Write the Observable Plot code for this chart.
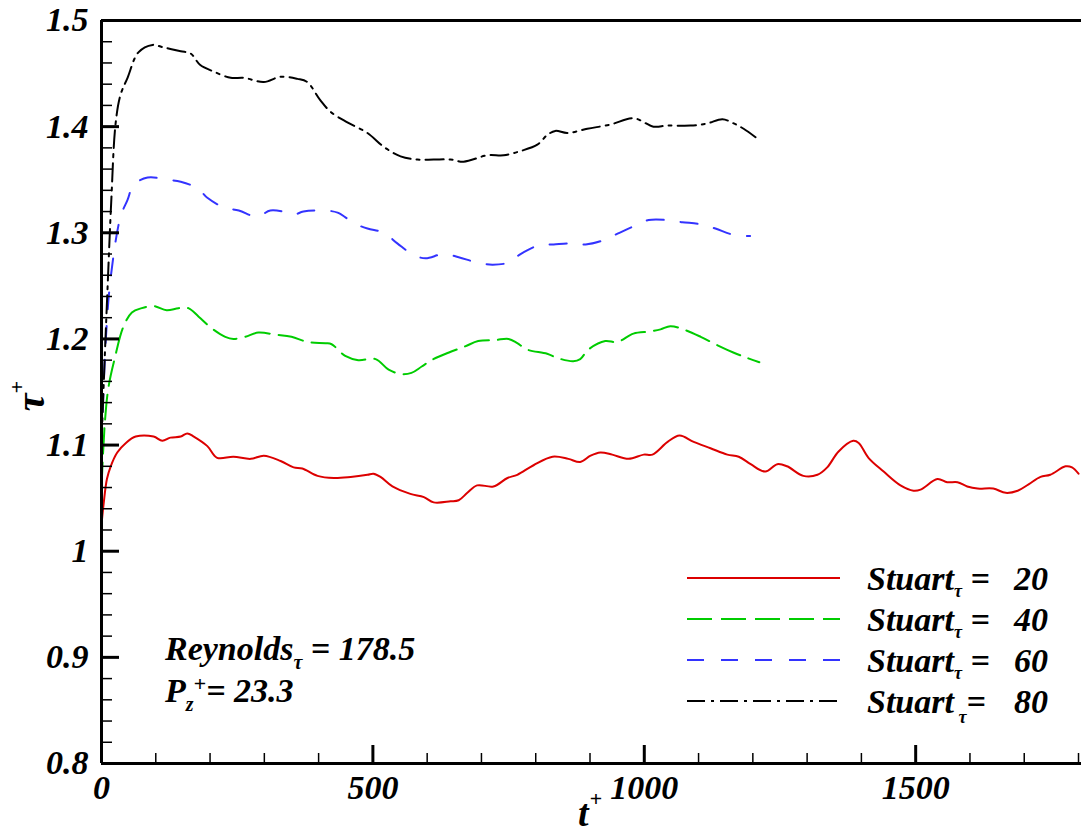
<!DOCTYPE html>
<html><head><meta charset="utf-8">
<script src="https://cdn.jsdelivr.net/npm/d3@7"></script>
<script src="https://cdn.jsdelivr.net/npm/@observablehq/plot@0.6"></script>
<style>html,body{margin:0;padding:0;background:#fff;} #chart svg{display:block;}</style>
</head><body><div id="chart"></div>
<script>
// ---- data ----
const t_red = [0,4,10,17,29,45,63,96,112,127,146,158,170,195,213,243,275,299,330,354,370,398,428,459,490,501,514,536,569,594,612,643,658,674,692,722,748,766,796,831,860,882,901,919,941,971,999,1015,1043,1065,1091,1122,1153,1174,1196,1223,1245,1263,1293,1319,1337,1358,1385,1395,1413,1441,1472,1496,1509,1540,1558,1577,1595,1614,1643,1666,1688,1708,1730,1748,1776,1788,1800];
const tau_red = [1.025,1.045,1.068,1.080,1.093,1.102,1.108,1.108,1.104,1.107,1.108,1.111,1.108,1.099,1.088,1.089,1.087,1.090,1.085,1.079,1.078,1.071,1.069,1.070,1.072,1.073,1.070,1.061,1.054,1.051,1.046,1.047,1.048,1.055,1.062,1.061,1.069,1.072,1.081,1.089,1.087,1.084,1.090,1.093,1.091,1.087,1.091,1.091,1.103,1.109,1.103,1.097,1.091,1.089,1.082,1.075,1.082,1.080,1.071,1.072,1.079,1.094,1.104,1.102,1.088,1.075,1.062,1.057,1.058,1.068,1.065,1.065,1.061,1.059,1.059,1.055,1.057,1.063,1.070,1.072,1.080,1.079,1.073];

const t_green = [0,6,13,25,40,56,74,96,120,142,160,179,203,228,243,265,289,321,350,381,413,424,449,473,505,529,551,571,590,608,639,670,694,726,750,766,784,821,840,869,882,897,928,950,980,1011,1030,1048,1072,1104,1135,1165,1190,1212];
const tau_green = [1.06,1.12,1.155,1.183,1.211,1.225,1.229,1.231,1.227,1.229,1.229,1.221,1.210,1.202,1.200,1.202,1.206,1.204,1.202,1.197,1.196,1.195,1.184,1.180,1.181,1.171,1.167,1.168,1.174,1.180,1.187,1.193,1.198,1.199,1.200,1.196,1.190,1.186,1.182,1.179,1.181,1.190,1.198,1.197,1.205,1.207,1.209,1.212,1.209,1.202,1.194,1.187,1.182,1.178];

const t_blue = [0,8,17,35,48,59,85,121,146,177,195,225,253,287,311,342,354,372,403,435,465,490,520,545,575,597,630,658,692,720,750,772,805,833,868,892,925,950,980,1008,1042,1070,1104,1131,1165,1195];
const tau_blue = [1.10,1.20,1.258,1.315,1.331,1.345,1.352,1.350,1.348,1.342,1.333,1.324,1.321,1.315,1.321,1.319,1.317,1.320,1.321,1.319,1.309,1.304,1.300,1.290,1.279,1.276,1.280,1.277,1.272,1.270,1.272,1.280,1.288,1.289,1.290,1.289,1.293,1.299,1.306,1.312,1.312,1.310,1.308,1.304,1.298,1.297];

const t_black = [0,5,11,18,26,35,48,68,94,112,146,164,182,206,238,262,299,330,361,379,403,422,453,490,520,551,582,612,643,667,711,741,772,803,821,836,858,895,938,980,1017,1042,1085,1116,1144,1165,1183,1205];
const tau_black = [1.10,1.17,1.246,1.33,1.403,1.43,1.446,1.470,1.477,1.475,1.471,1.469,1.458,1.452,1.446,1.446,1.442,1.447,1.445,1.442,1.425,1.414,1.404,1.394,1.381,1.372,1.369,1.369,1.369,1.367,1.373,1.373,1.377,1.383,1.392,1.396,1.394,1.398,1.402,1.408,1.400,1.401,1.401,1.403,1.407,1.403,1.398,1.390];

const stuartValues = ["20", "40", "60", "80"];
const seriesColors = ["#dc0000", "#00cc00", "#3333ff", "#000000"];
const seriesDash = [null, "25,9", "17,17", "18,6,3,6"];

const xMajorTicks = [0, 500, 1000, 1500];
const xTickLabels = ["0", "500", "1000", "1500"];
const xMinorTicks = [100,200,300,400,600,700,800,900,1100,1200,1300,1400,1600,1700,1800];
const yMajorTicks = [0.8, 0.9, 1.0, 1.1, 1.2, 1.3, 1.4, 1.5];
const yTickLabels = ["0.8", "0.9", "1", "1.1", "1.2", "1.3", "1.4", "1.5"];
const yMinorTicks = [0.82,0.84,0.86,0.88,0.92,0.94,0.96,0.98,1.02,1.04,1.06,1.08,1.12,1.14,1.16,1.18,1.22,1.24,1.26,1.28,1.32,1.34,1.36,1.38,1.42,1.44,1.46,1.48];

// ---- build table ----
const seriesT = [t_red, t_green, t_blue, t_black];
const seriesTau = [tau_red, tau_green, tau_blue, tau_black];
const rows = [];
seriesT.forEach((ts, k) => ts.forEach((t, i) => rows.push({s: k, t, tau: seriesTau[k][i]})));

const W = 1081, H = 836;
const mL = 101, mT = 20, mR = 0, mB = 73;
const frameW = W - mL - mR, frameH = H - mT - mB;
const FONT = "Liberation Serif, DejaVu Serif, Times New Roman, serif";
const fs = 34;
const textOpts = {fontSize: fs, fontWeight: "bold", fontStyle: "italic", fontFamily: FONT, fill: "black"};

const lineMarks = [0,1,2,3].map(k => Plot.line(rows.filter(r => r.s === k), {
  x: "t", y: "tau", stroke: seriesColors[k], strokeWidth: 2,
  strokeDasharray: seriesDash[k] || undefined, curve: "catmull-rom"
}));

const plot = Plot.plot({
  width: W, height: H,
  marginLeft: mL, marginTop: mT, marginRight: mR, marginBottom: mB,
  x: {domain: [0, 1805.5], label: null},
  y: {domain: [0.8, 1.5], label: null},
  style: {fontFamily: FONT, background: "white", color: "black", overflow: "visible"},
  marks: [
    ...lineMarks,
    Plot.tickX(xMinorTicks, {x: d => d, stroke: "black", strokeWidth: 1.5, insetTop: frameH - 10}),
    Plot.tickX(xMajorTicks, {x: d => d, stroke: "black", strokeWidth: 3, insetTop: frameH - 18}),
    Plot.tickY(yMinorTicks, {y: d => d, stroke: "black", strokeWidth: 1.5, insetRight: frameW - 11}),
    Plot.tickY(yMajorTicks, {y: d => d, stroke: "black", strokeWidth: 3, insetRight: frameW - 18}),
    Plot.ruleX([0], {stroke: "black", strokeWidth: 3}),
    Plot.ruleY([0.8], {stroke: "black", strokeWidth: 3}),
    Plot.ruleY([1.5], {stroke: "black", strokeWidth: 3}),
    Plot.axisX(xMajorTicks, {tickSize: 0, tickPadding: 11, ...textOpts,
      tickFormat: d => xTickLabels[xMajorTicks.indexOf(d)]}),
    Plot.axisY(yMajorTicks, {tickSize: 0, tickPadding: 13, ...textOpts,
      tickFormat: d => yTickLabels[yMajorTicks.indexOf(d)]})
  ]
});
document.getElementById("chart").appendChild(plot);

// ---- text overlays (titles, annotation, legend) ----
const svg = d3.select(plot);
const g = svg.append("g")
  .attr("font-family", FONT).attr("font-weight", "bold").attr("font-style", "italic")
  .attr("fill", "black").style("white-space", "pre");

// rich text: parts = [[string, size, dy, dx], ...]
function rich(x, y, parts, anchor = "start") {
  const t = g.append("text").attr("x", x).attr("y", y).attr("text-anchor", anchor);
  parts.forEach(([s, size, dy, dx]) => {
    const ts = t.append("tspan").attr("font-size", size).text(s);
    if (dy) ts.attr("dy", dy);
    if (dx) ts.attr("dx", dx);
  });
  return t;
}

// x-axis title t+
rich(578, 826, [["t", 38], ["+", 22, -20, 1]]);
// y-axis title tau+ (rotated)
const yt = g.append("text").attr("transform", "translate(44,396) rotate(-90)").attr("text-anchor", "middle");
yt.append("tspan").attr("font-size", 40).text("τ");
yt.append("tspan").attr("font-size", 22).attr("dy", -20).text("+");

// annotation
rich(165, 660, [["Reynolds", fs], ["τ", 20, 9], [" = 178.5", fs, -9]]);
rich(165, 702, [["P", fs], ["z", 20, 9, 0], ["+", 22, -20, 0], ["= 23.3", fs, 11]]);

// legend
const legY = [578, 619, 660, 701];
legY.forEach((ly, k) => {
  const ln = g.append("line").attr("x1", 687).attr("x2", 840).attr("y1", ly).attr("y2", ly)
    .attr("stroke", seriesColors[k]).attr("stroke-width", 2);
  if (seriesDash[k]) ln.attr("stroke-dasharray", seriesDash[k]);
  if (k < 3) rich(867, ly + 12, [["Stuart", fs], ["τ", 18, 7], [" =", fs, -7]]);
  else rich(867, ly + 12, [["Stuart ", fs], ["τ", 18, 10, -4], ["=", fs, -10]]);
  rich(1048, ly + 12, [[stuartValues[k], fs]], "end");
});
</script></body></html>
